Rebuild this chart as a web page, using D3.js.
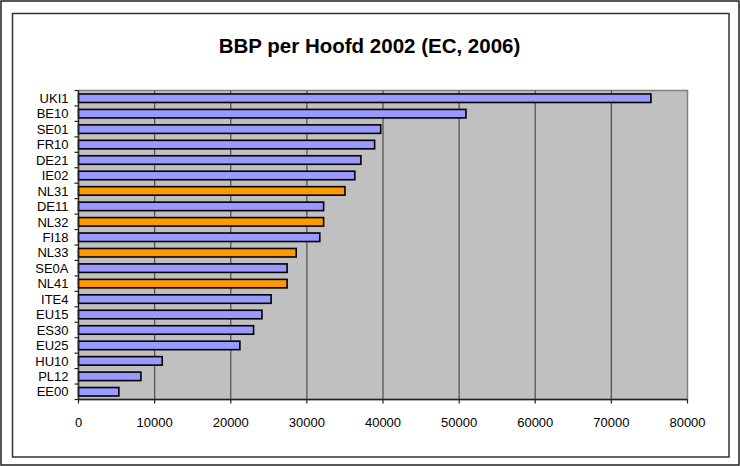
<!DOCTYPE html>
<html>
<head>
<meta charset="utf-8">
<script src="https://cdn.jsdelivr.net/npm/d3@7"></script>
<style>
  html, body { margin: 0; padding: 0; background: #fff; }
  svg { display: block; }
</style>
</head>
<body>
<svg id="chart" width="740" height="466"></svg>
<script>
const categories = ["UKI1","BE10","SE01","FR10","DE21","IE02","NL31","DE11","NL32","FI18","NL33","SE0A","NL41","ITE4","EU15","ES30","EU25","HU10","PL12","EE00"];
const values = [75200, 50900, 39700, 38900, 37100, 36300, 35000, 32200, 32200, 31700, 28600, 27400, 27400, 25300, 24100, 23000, 21200, 11000, 8200, 5300];
const highlighted = ["NL31","NL32","NL33","NL41"];
const xTicks = [0, 10000, 20000, 30000, 40000, 50000, 60000, 70000, 80000];
const title = "BBP per Hoofd 2002 (EC, 2006)";

const svg = d3.select("#chart");
const W = 740, H = 466;
const plot = {left: 78.5, right: 687.5, top: 90.5, bottom: 399.5};

// outer & inner frames
svg.append("rect").attr("x", 1).attr("y", 1).attr("width", W - 2).attr("height", H - 2)
  .attr("fill", "#fff").attr("stroke", "#222").attr("stroke-width", 1.5);
svg.append("rect").attr("x", 12.5).attr("y", 13.5).attr("width", 716.5).attr("height", 443.5)
  .attr("fill", "#fff").attr("stroke", "#333").attr("stroke-width", 1.5);

// title
svg.append("text").attr("x", 369.5).attr("y", 52.5).attr("text-anchor", "middle")
  .attr("font-family", "Liberation Sans, Arial, sans-serif").attr("font-weight", "bold")
  .attr("font-size", "20.5px").attr("fill", "#000").text(title);

const x = d3.scaleLinear().domain([0, 80000]).range([plot.left, plot.right]);
const y = d3.scaleBand().domain(categories).range([plot.top, plot.bottom]).paddingInner(0.45).paddingOuter(0.225);

// plot background
svg.append("rect").attr("x", plot.left).attr("y", plot.top)
  .attr("width", plot.right - plot.left).attr("height", plot.bottom - plot.top)
  .attr("fill", "#c0c0c0").attr("stroke", "#808080").attr("stroke-width", 1.5);

// gridlines
svg.append("g").selectAll("line").data(xTicks.filter(t => t > 0 && t < 80000)).join("line")
  .attr("x1", d => x(d)).attr("x2", d => x(d))
  .attr("y1", plot.top).attr("y2", plot.bottom)
  .attr("stroke", "#555").attr("stroke-width", 1.3);

// bars
svg.append("g").selectAll("rect").data(categories).join("rect")
  .attr("x", x(0))
  .attr("y", d => y(d))
  .attr("width", (d, i) => x(values[i]) - x(0))
  .attr("height", y.bandwidth())
  .attr("fill", d => highlighted.includes(d) ? "#ff9900" : "#9999ff")
  .attr("stroke", "#000").attr("stroke-width", 1.6);

// y axis
const yAxis = svg.append("g").attr("transform", `translate(${plot.left},0)`);
yAxis.append("line").attr("x1", 0).attr("x2", 0).attr("y1", plot.top).attr("y2", plot.bottom)
  .attr("stroke", "#222").attr("stroke-width", 1.3);
const step = y.step();
const edges = d3.range(categories.length + 1).map(i => plot.top + i * (plot.bottom - plot.top) / categories.length);
yAxis.selectAll("line.tk").data(edges).join("line").attr("class", "tk")
  .attr("x1", -4).attr("x2", 0).attr("y1", d => d).attr("y2", d => d)
  .attr("stroke", "#222").attr("stroke-width", 1.2);
yAxis.selectAll("text").data(categories).join("text")
  .attr("x", -10).attr("y", d => y(d) + y.bandwidth() / 2)
  .attr("dy", "0.36em").attr("text-anchor", "end")
  .attr("font-family", "Liberation Sans, Arial, sans-serif").attr("font-size", "13px")
  .attr("fill", "#000").text(d => d);

// x axis
const xAxis = svg.append("g").attr("transform", `translate(0,${plot.bottom})`);
xAxis.append("line").attr("x1", plot.left).attr("x2", plot.right).attr("y1", 0).attr("y2", 0)
  .attr("stroke", "#222").attr("stroke-width", 1.3);
xAxis.selectAll("line.tk").data(xTicks).join("line").attr("class", "tk")
  .attr("x1", d => x(d)).attr("x2", d => x(d)).attr("y1", 0).attr("y2", 4)
  .attr("stroke", "#222").attr("stroke-width", 1.2);
xAxis.selectAll("text").data(xTicks).join("text")
  .attr("x", d => x(d)).attr("y", 27)
  .attr("text-anchor", "middle")
  .attr("font-family", "Liberation Sans, Arial, sans-serif").attr("font-size", "13px")
  .attr("fill", "#000").text(d => d);
</script>
</body>
</html>
